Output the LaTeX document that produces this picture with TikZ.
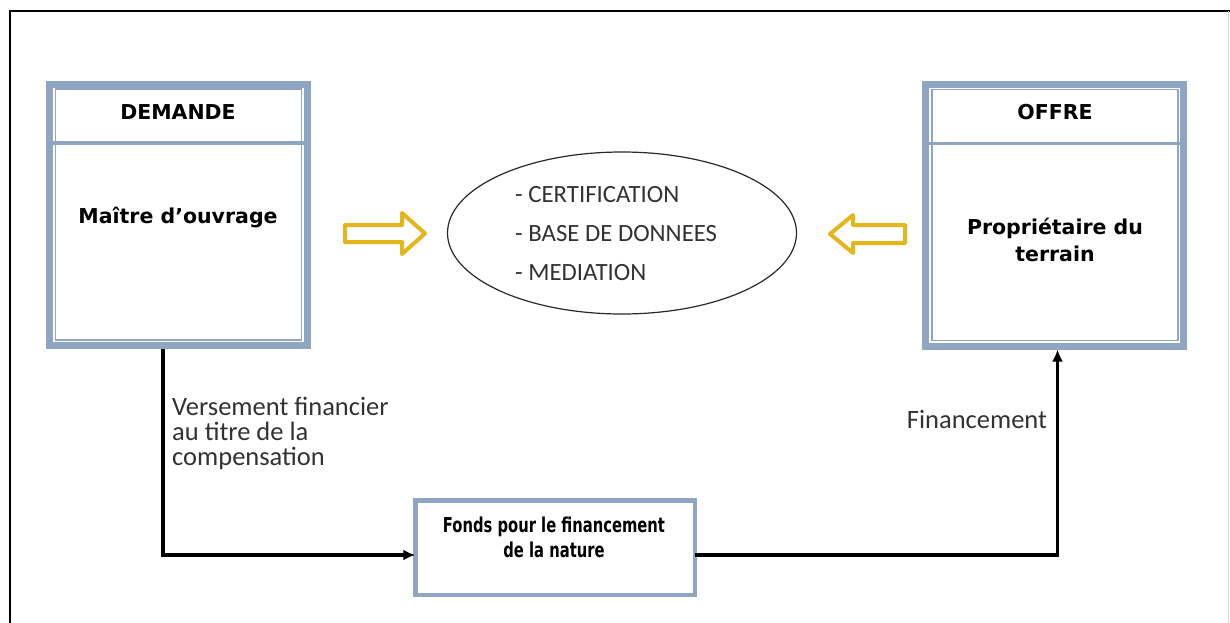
\documentclass[tikz,border=0pt]{standalone}
\usepackage{fontspec}
\usepackage{graphicx}
\setmainfont{Carlito}
\newfontfamily\headfont{DejaVu Sans}
\usetikzlibrary{arrows.meta,shapes.geometric,calc}

\definecolor{boxblue}{RGB}{143,166,194}
\definecolor{arrowgold}{RGB}{228,182,28}
\definecolor{labelgray}{RGB}{50,50,50}
\definecolor{ellgray}{RGB}{40,40,40}

\tikzset{
  bigbox/.style={draw=boxblue, line width=7pt, fill=white, inner sep=0pt, outer sep=0pt,
                 minimum width=258pt, minimum height=261pt},
  fundbox/.style={draw=boxblue, line width=4.5pt, fill=white, inner sep=0pt, outer sep=0pt,
                  minimum width=279.5pt, minimum height=94.5pt},
  innerline/.style={draw=boxblue, line width=1.5pt},
  divider/.style={draw=boxblue, line width=3.5pt},
  headtext/.style={font=\headfont\bfseries\fontsize{20.5}{27}\selectfont, align=center, inner sep=0pt},
  labeltext/.style={font=\fontsize{26.5}{25}\selectfont, text=labelgray, align=left, inner sep=0pt},
  listtext/.style={font=\fontsize{24.8}{29}\selectfont, text=labelgray, inner sep=0pt, anchor=west},
  flow/.style={draw=black, line width=3.5pt, -{Latex[length=12pt,width=11pt]}},
  hollow/.style={draw=arrowgold, line width=4pt, fill=white, line join=round},
}

\begin{document}
\begin{tikzpicture}[x=1pt, y=-1pt]
\useasboundingbox (0,0) rectangle (1230,623);

% page frame
\draw[line width=1.8pt] (10,623) -- (10,11) -- (1230,11);
\draw[line width=0.6pt, black!15] (1228,11) -- (1228,623);

% demand side
\node[bigbox] (dem) at (178,215) {};
\draw[innerline] ([shift={(6.5pt,-4.5pt)}]dem.north west) rectangle ([shift={(-5.5pt,5.5pt)}]dem.south east);
\draw[divider] ([yshift=-58.5pt]dem.north west) -- ([yshift=-58.5pt]dem.north east);
\node[headtext] (demhead) at (178,112) {DEMANDE};
\node[headtext] (dembody) at (178,218) {Maître d’ouvrage};

% supply side
\node[bigbox] (off) at (1054.5,215.5) {};
\draw[innerline] ([shift={(6.5pt,-4.5pt)}]off.north west) rectangle ([shift={(-5.5pt,5.5pt)}]off.south east);
\draw[divider] ([yshift=-58.5pt]off.north west) -- ([yshift=-58.5pt]off.north east);
\node[headtext] (offhead) at (1055,112) {OFFRE};
\node[headtext] (offbody) at (1055,239.5) {Propriétaire du\\terrain};

% central services
\node[ellipse, draw=ellgray, line width=1.2pt, minimum width=349pt, minimum height=162pt] (ell) at (622,233) {};
\node[listtext] (cert) at (515,195) {- CERTIFICATION};
\node[listtext] (base) at (515,234) {- BASE DE DONNEES};
\node[listtext] (medi) at (515,273) {- MEDIATION};

% hollow arrows pointing to the services
\draw[hollow] (345,225) -- (402,225) -- (402,213) -- (425,233.5) -- (402,254) -- (402,242) -- (345,242) -- cycle;
\draw[hollow] (905,225) -- (853,225) -- (853,215) -- (830,234) -- (853,253) -- (853,243) -- (905,243) -- cycle;

% fund
\node[fundbox] (fund) at (555,547.5) {};
\node[headtext, font=\headfont\bfseries\fontsize{20.5}{25}\selectfont] (fundtext) at (554,537.5)
  {\scalebox{0.72}[1]{Fonds pour le financement}\\\scalebox{0.72}[1]{de la nature}};

% money flows
\coordinate (demout) at ([xshift=-15pt,yshift=-3.5pt]dem.south);
\coordinate (offin) at ([xshift=3pt,yshift=-3.5pt]off.south);
\draw[flow] (demout) |- ([yshift=-7.5pt]fund.west);
\draw[flow] ([yshift=-7.5pt]fund.east) -| (offin);

\node[labeltext, anchor=north west] (vers) at (172,397) {Versement financier\\au titre de la\\compensation};
\node[labeltext] (fin) at (977,419) {Financement};
\end{tikzpicture}
\end{document}
